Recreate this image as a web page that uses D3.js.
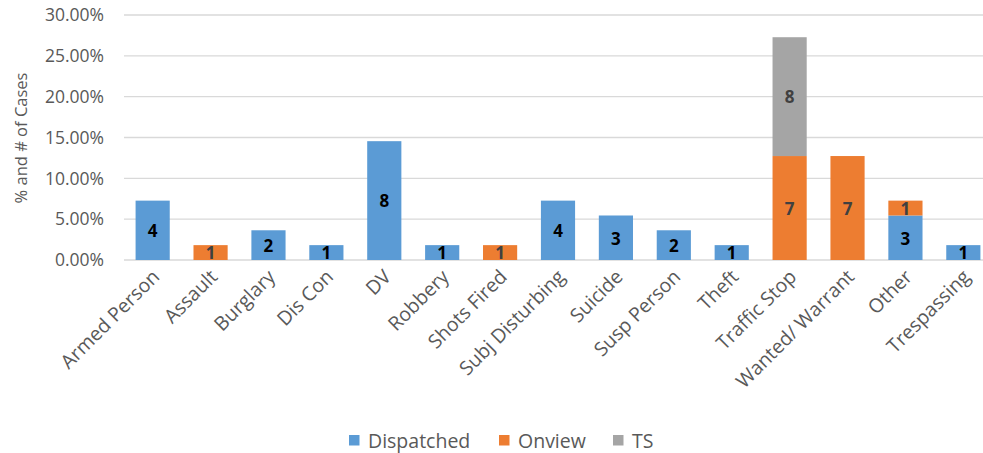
<!DOCTYPE html>
<html>
<head>
<meta charset="utf-8">
<script src="https://cdn.jsdelivr.net/npm/d3@7"></script>
<style>
  body { margin: 0; background: #fff; }
  svg { font-family: "Open Sans", "Liberation Sans", sans-serif; }
</style>
</head>
<body>
<svg id="chart" width="983" height="453"></svg>
<script>
const categories = ['Armed Person', 'Assault', 'Burglary', 'Dis Con', 'DV', 'Robbery', 'Shots Fired',
  'Subj Disturbing', 'Suicide', 'Susp Person', 'Theft', 'Traffic Stop', 'Wanted/ Warrant', 'Other', 'Trespassing'];

// % of cases per series
const dispatchedPct = [7.27, 0, 3.64, 1.82, 14.55, 1.82, 0, 7.27, 5.45, 3.64, 1.82, 0, 0, 5.45, 1.82];
const onviewPct     = [0, 1.82, 0, 0, 0, 0, 1.82, 0, 0, 0, 0, 12.73, 12.73, 1.82, 0];
const tsPct         = [0, 0, 0, 0, 0, 0, 0, 0, 0, 0, 0, 14.55, 0, 0, 0];

// # of cases shown as labels
const dispatchedCount = [4, 0, 2, 1, 8, 1, 0, 4, 3, 2, 1, 0, 0, 3, 1];
const onviewCount     = [0, 1, 0, 0, 0, 0, 1, 0, 0, 0, 0, 7, 7, 1, 0];
const tsCount         = [0, 0, 0, 0, 0, 0, 0, 0, 0, 0, 0, 8, 0, 0, 0];

const yTicks = [0, 5, 10, 15, 20, 25, 30];

const series = [
  { name: 'Dispatched', pct: dispatchedPct, count: dispatchedCount, color: '#5B9BD5', label: '#000' },
  { name: 'Onview', pct: onviewPct, count: onviewCount, color: '#ED7D31', label: '#404040' },
  { name: 'TS', pct: tsPct, count: tsCount, color: '#A5A5A5', label: '#404040' },
];

const svg = d3.select('#chart');

const x = d3.scaleBand().domain(categories).range([124, 992]).paddingInner(0.41).paddingOuter(0.2);
const y = d3.scaleLinear().domain([0, 30]).range([260, 15]);

// gridlines
svg.append('g')
  .selectAll('line')
  .data(yTicks)
  .join('line')
  .attr('x1', 124).attr('x2', 983)
  .attr('y1', d => y(d)).attr('y2', d => y(d))
  .attr('stroke', '#D9D9D9').attr('stroke-width', 1.3);

// y tick labels
svg.append('g')
  .selectAll('text')
  .data(yTicks)
  .join('text')
  .attr('x', 104)
  .attr('y', d => y(d))
  .attr('dy', '0.36em')
  .attr('text-anchor', 'end')
  .attr('font-size', 17.5)
  .attr('fill', '#595959')
  .text(d => d.toFixed(2) + '%');

// y title
svg.append('text')
  .attr('transform', `translate(27,138) rotate(-90)`)
  .attr('text-anchor', 'middle')
  .attr('font-size', 16.5)
  .attr('fill', '#595959')
  .text('% and # of Cases');

// stacked bars
const stackBase = categories.map(() => 0);
const barG = svg.append('g');
const labelG = svg.append('g');
series.forEach(s => {
  categories.forEach((c, i) => {
    const v = s.pct[i];
    if (!v) return;
    const y0 = stackBase[i];
    const y1 = y0 + v;
    stackBase[i] = y1;
    barG.append('rect')
      .attr('x', x(c))
      .attr('width', x.bandwidth())
      .attr('y', y(y1))
      .attr('height', y(y0) - y(y1))
      .attr('fill', s.color);
    labelG.append('text')
      .attr('x', x(c) + x.bandwidth() / 2)
      .attr('y', (y(y0) + y(y1)) / 2)
      .attr('dy', '0.4em')
      .attr('text-anchor', 'middle')
      .attr('font-size', 17)
      .attr('font-weight', 'bold')
      .attr('fill', s.label)
      .text(s.count[i]);
  });
});

// x labels
svg.append('g')
  .selectAll('text')
  .data(categories)
  .join('text')
  .attr('transform', d => `translate(${x(d) + x.bandwidth() / 2 + 8},${278}) rotate(-45)`)
  .attr('text-anchor', 'end')
  .attr('font-size', 19.5)
  .attr('fill', '#595959')
  .text(d => d);

// legend
const legendX = [349, 499, 613];
const legend = svg.append('g');
series.forEach((s, i) => {
  legend.append('rect')
    .attr('x', legendX[i]).attr('y', 435)
    .attr('width', 10.5).attr('height', 10.5)
    .attr('fill', s.color);
  legend.append('text')
    .attr('x', legendX[i] + 19).attr('y', 440.5)
    .attr('dy', '0.36em')
    .attr('font-size', 19.5)
    .attr('fill', '#595959')
    .text(s.name);
});
</script>
</body>
</html>
